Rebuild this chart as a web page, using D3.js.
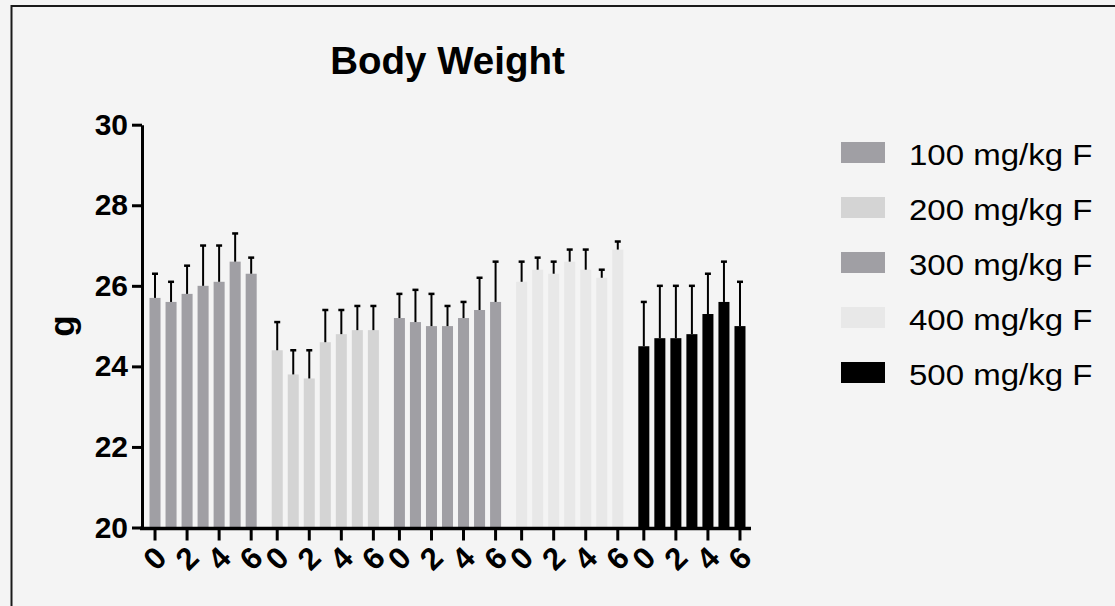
<!DOCTYPE html>
<html>
<head>
<meta charset="utf-8">
<script src="https://cdn.jsdelivr.net/npm/d3@7"></script>
<style>
  body { margin: 0; background: #f4f4f4; }
  svg { display: block; font-family: "Liberation Sans", Arial, sans-serif; }
</style>
</head>
<body>
<div id="chart"></div>
<script>
// groups (dose) and days
const groups = ['100 mg/kg F', '200 mg/kg F', '300 mg/kg F', '400 mg/kg F', '500 mg/kg F'];
const days = [0, 1, 2, 3, 4, 5, 6];
const tickDays = [0, 2, 4, 6];
const yTicks = [20, 22, 24, 26, 28, 30];

// mean body weight (g) per day
const mean100 = [25.7, 25.6, 25.8, 26.0, 26.1, 26.6, 26.3];
const mean200 = [24.4, 23.8, 23.7, 24.6, 24.8, 24.9, 24.9];
const mean300 = [25.2, 25.1, 25.0, 25.0, 25.2, 25.4, 25.6];
const mean400 = [26.1, 26.4, 26.3, 26.6, 26.4, 26.2, 26.9];
const mean500 = [24.5, 24.7, 24.7, 24.8, 25.3, 25.6, 25.0];

// upper error (SD) per day
const err100 = [0.6, 0.5, 0.7, 1.0, 0.9, 0.7, 0.4];
const err200 = [0.7, 0.6, 0.7, 0.8, 0.6, 0.6, 0.6];
const err300 = [0.6, 0.8, 0.8, 0.5, 0.4, 0.8, 1.0];
const err400 = [0.5, 0.3, 0.3, 0.3, 0.5, 0.2, 0.2];
const err500 = [1.1, 1.3, 1.3, 1.2, 1.0, 1.0, 1.1];

const means = [mean100, mean200, mean300, mean400, mean500];
const errs = [err100, err200, err300, err400, err500];
const barColors = ['#a09fa4', '#d4d4d4', '#a09fa4', '#e8e8e8', '#000000'];

const width = 1115, height = 606;

const svg = d3.select('#chart').append('svg')
  .attr('width', width)
  .attr('height', height);

svg.append('rect')
  .attr('width', width)
  .attr('height', height)
  .attr('fill', '#f4f4f4');

// outer frame (only top and left edges visible)
svg.append('rect')
  .attr('x', 11.5).attr('y', 6)
  .attr('width', 1300).attr('height', 800)
  .attr('fill', 'none')
  .attr('stroke', '#1a1a1a')
  .attr('stroke-width', 2);

const y = d3.scaleLinear().domain([20, 30]).range([527.5, 124.7]);

const xGroup = d3.scaleBand()
  .domain(groups)
  .range([143, 752])
  .paddingInner(10 / 122)
  .paddingOuter(4 / 122);

const xDay = d3.scaleBand()
  .domain(days)
  .range([0, xGroup.bandwidth()])
  .paddingInner(0.3125)
  .paddingOuter(0.15625);

const data = [];
groups.forEach((g, gi) => {
  days.forEach((d, di) => {
    data.push({ group: g, gi: gi, day: d, mean: means[gi][di], err: errs[gi][di] });
  });
});

const barX = d => xGroup(d.group) + xDay(d.day);
const barMid = d => barX(d) + xDay.bandwidth() / 2;

// bars
svg.append('g').selectAll('rect')
  .data(data)
  .join('rect')
  .attr('x', barX)
  .attr('y', d => y(d.mean))
  .attr('width', xDay.bandwidth())
  .attr('height', d => y(20) - y(d.mean))
  .attr('fill', d => barColors[d.gi]);

// error bars (upper only)
const eb = svg.append('g').attr('stroke', '#000');
eb.selectAll('line.stem')
  .data(data)
  .join('line')
  .attr('class', 'stem')
  .attr('x1', barMid).attr('x2', barMid)
  .attr('y1', d => y(d.mean))
  .attr('y2', d => y(d.mean + d.err))
  .attr('stroke-width', 2);
eb.selectAll('line.cap')
  .data(data)
  .join('line')
  .attr('class', 'cap')
  .attr('x1', d => barMid(d) - 3).attr('x2', d => barMid(d) + 3)
  .attr('y1', d => y(d.mean + d.err))
  .attr('y2', d => y(d.mean + d.err))
  .attr('stroke-width', 2.5);

// y axis
const yAxis = svg.append('g')
  .attr('transform', 'translate(142,0)')
  .call(d3.axisLeft(y).tickValues(yTicks).tickSize(10).tickSizeOuter(0).tickPadding(4));
yAxis.select('.domain').attr('stroke', '#000').attr('stroke-width', 3);
yAxis.selectAll('.tick line').attr('stroke', '#000').attr('stroke-width', 3);
yAxis.selectAll('.tick text')
  .attr('fill', '#000')
  .attr('font-size', 30)
  .attr('font-weight', 'bold')
  .attr('font-family', '"Liberation Sans", Arial, sans-serif');

// x axis: one small axis per group, ticks on even days
const axisY = 528.5;
groups.forEach(g => {
  const ax = svg.append('g')
    .attr('transform', `translate(${xGroup(g)},${axisY})`)
    .call(d3.axisBottom(xDay).tickValues(tickDays).tickSize(12).tickSizeOuter(0));
  ax.select('.domain').remove();
  ax.selectAll('.tick line').attr('stroke', '#000').attr('stroke-width', 3);
  ax.selectAll('.tick text')
    .attr('y', null)
    .attr('dy', null)
    .attr('transform', 'translate(0,30) rotate(-45)')
    .attr('text-anchor', 'middle')
    .attr('dominant-baseline', 'central')
    .attr('fill', '#000')
    .attr('font-size', 31)
    .attr('font-weight', 'bold')
    .attr('font-family', '"Liberation Sans", Arial, sans-serif');
});
svg.append('line')
  .attr('x1', 140).attr('x2', xGroup.range()[1] - 1)
  .attr('y1', axisY).attr('y2', axisY)
  .attr('stroke', '#000')
  .attr('stroke-width', 3.5);

// title
svg.append('text')
  .attr('x', (143 + 752) / 2)
  .attr('y', 74)
  .attr('text-anchor', 'middle')
  .attr('font-size', 38.5)
  .attr('font-weight', 'bold')
  .text('Body Weight');

// y axis label
svg.append('text')
  .attr('transform', `translate(74,${(y(20) + y(30)) / 2}) rotate(-90)`)
  .attr('text-anchor', 'middle')
  .attr('font-size', 35)
  .attr('font-weight', 'bold')
  .text('g');

// legend
const legend = svg.append('g')
  .selectAll('g')
  .data(groups)
  .join('g')
  .attr('transform', (d, i) => `translate(841,${142 + i * 55})`);
legend.append('rect')
  .attr('width', 44)
  .attr('height', 21)
  .attr('fill', (d, i) => barColors[i]);
legend.append('text')
  .attr('transform', 'translate(68,23) scale(1.1,1)')
  .attr('font-size', 30)
  .attr('fill', '#000')
  .text(d => d);
</script>
</body>
</html>
